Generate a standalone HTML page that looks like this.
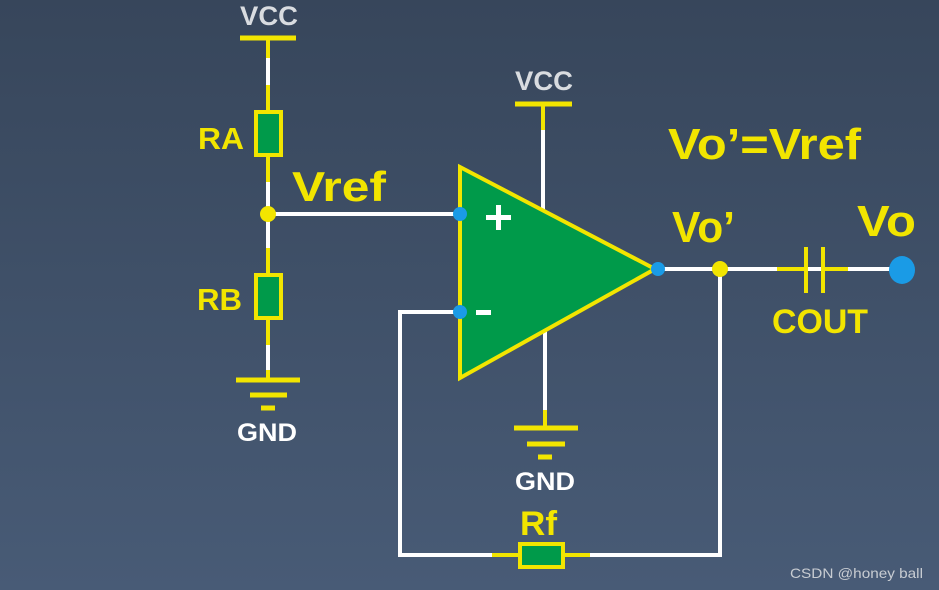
<!DOCTYPE html>
<html><head><meta charset="utf-8"><style>
html,body{margin:0;padding:0;width:939px;height:590px;overflow:hidden}
svg{display:block}
text{font-family:"Liberation Sans",sans-serif;font-weight:bold}
</style></head><body>
<svg width="939" height="590" viewBox="0 0 939 590" xmlns="http://www.w3.org/2000/svg">
<defs><linearGradient id="bg" x1="0" y1="0" x2="0" y2="1">
<stop offset="0" stop-color="#37465b"/><stop offset="1" stop-color="#485b76"/></linearGradient></defs>
<rect width="939" height="590" fill="url(#bg)"/>
<g stroke-width="4" fill="none">
<!-- left divider -->
<line x1="268" y1="38" x2="268" y2="380" stroke="#fff"/>
<g stroke="#f2e500">
<line x1="240" y1="38" x2="296" y2="38" stroke-width="5"/>
<line x1="268" y1="38" x2="268" y2="58"/>
<line x1="268" y1="85" x2="268" y2="112"/>
<line x1="268" y1="155" x2="268" y2="182"/>
<line x1="268" y1="248" x2="268" y2="275"/>
<line x1="268" y1="318" x2="268" y2="345"/>
<line x1="268" y1="370" x2="268" y2="380"/>
<line x1="236" y1="380" x2="300" y2="380" stroke-width="5"/>
<line x1="250" y1="395" x2="287" y2="395" stroke-width="5"/>
<line x1="261" y1="408" x2="275" y2="408" stroke-width="5"/>
</g>
<rect x="256" y="112" width="25" height="43" fill="#009a4a" stroke="#f2e500"/>
<rect x="256" y="275" width="25" height="43" fill="#009a4a" stroke="#f2e500"/>
<!-- wires -->
<line x1="268" y1="214" x2="460" y2="214" stroke="#fff"/>
<polyline points="460,312 400,312 400,555 720,555 720,269" stroke="#fff"/>
<line x1="658" y1="269" x2="900" y2="269" stroke="#fff"/>
<line x1="543" y1="104" x2="543" y2="210" stroke="#fff"/>
<line x1="545" y1="330" x2="545" y2="428" stroke="#fff"/>
<g stroke="#f2e500">
<line x1="515" y1="104" x2="572" y2="104" stroke-width="5"/>
<line x1="543" y1="104" x2="543" y2="130"/>
<line x1="545" y1="410" x2="545" y2="428"/>
<line x1="514" y1="428" x2="578" y2="428" stroke-width="5"/>
<line x1="527" y1="444" x2="565" y2="444" stroke-width="5"/>
<line x1="538" y1="457" x2="552" y2="457" stroke-width="5"/>
<line x1="492" y1="555" x2="520" y2="555"/>
<line x1="563" y1="555" x2="590" y2="555"/>
<line x1="777" y1="269" x2="806" y2="269"/>
<line x1="823" y1="269" x2="848" y2="269"/>
<line x1="806" y1="247" x2="806" y2="293"/>
<line x1="823" y1="247" x2="823" y2="293"/>
</g>
<rect x="520" y="544" width="43" height="23" fill="#009a4a" stroke="#f2e500"/>
<polygon points="460,167 460,378 655,269" fill="#009a4a" stroke="#f2e500" stroke-width="4"/>
</g>
<circle cx="268" cy="214" r="8" fill="#f2e500"/>
<circle cx="720" cy="269" r="8" fill="#f2e500"/>
<circle cx="460" cy="214" r="7" fill="#1a9be6"/>
<circle cx="460" cy="312" r="7" fill="#1a9be6"/>
<circle cx="658" cy="269" r="7" fill="#1a9be6"/>
<ellipse cx="902" cy="270" rx="13" ry="14" fill="#1a9be6"/>
<!-- +/- -->
<rect x="486" y="215" width="25" height="5" fill="#fff"/>
<rect x="496" y="205" width="5" height="25" fill="#fff"/>
<rect x="476" y="310" width="15" height="5" fill="#fff"/>
<!-- labels -->
<g fill="#d9dce0">
<text x="240" y="25" font-size="27" textLength="58" lengthAdjust="spacingAndGlyphs">VCC</text>
<text x="515" y="90" font-size="27" textLength="58" lengthAdjust="spacingAndGlyphs">VCC</text>
</g>
<g fill="#fff">
<text x="237" y="441" font-size="25" textLength="60" lengthAdjust="spacingAndGlyphs">GND</text>
<text x="515" y="490" font-size="25" textLength="60" lengthAdjust="spacingAndGlyphs">GND</text>
</g>
<g fill="#f2e500">
<text x="198" y="149" font-size="31" textLength="46" lengthAdjust="spacingAndGlyphs">RA</text>
<text x="197" y="310" font-size="31" textLength="45" lengthAdjust="spacingAndGlyphs">RB</text>
<text x="292" y="201" font-size="42" textLength="94" lengthAdjust="spacingAndGlyphs">Vref</text>
<text x="520" y="535" font-size="34" textLength="37" lengthAdjust="spacingAndGlyphs">Rf</text>
<text x="668" y="159" font-size="44" textLength="193" lengthAdjust="spacingAndGlyphs">Vo’=Vref</text>
<text x="672" y="242" font-size="44" textLength="63" lengthAdjust="spacingAndGlyphs">Vo’</text>
<text x="857" y="236" font-size="44" textLength="59" lengthAdjust="spacingAndGlyphs">Vo</text>
<text x="772" y="333" font-size="34" textLength="96" lengthAdjust="spacingAndGlyphs">COUT</text>
</g>
<text x="790" y="578" font-size="14" font-weight="normal" fill="#c8ccd2" style="font-weight:normal" textLength="133" lengthAdjust="spacingAndGlyphs">CSDN @honey ball</text>
</svg>
</body></html>
